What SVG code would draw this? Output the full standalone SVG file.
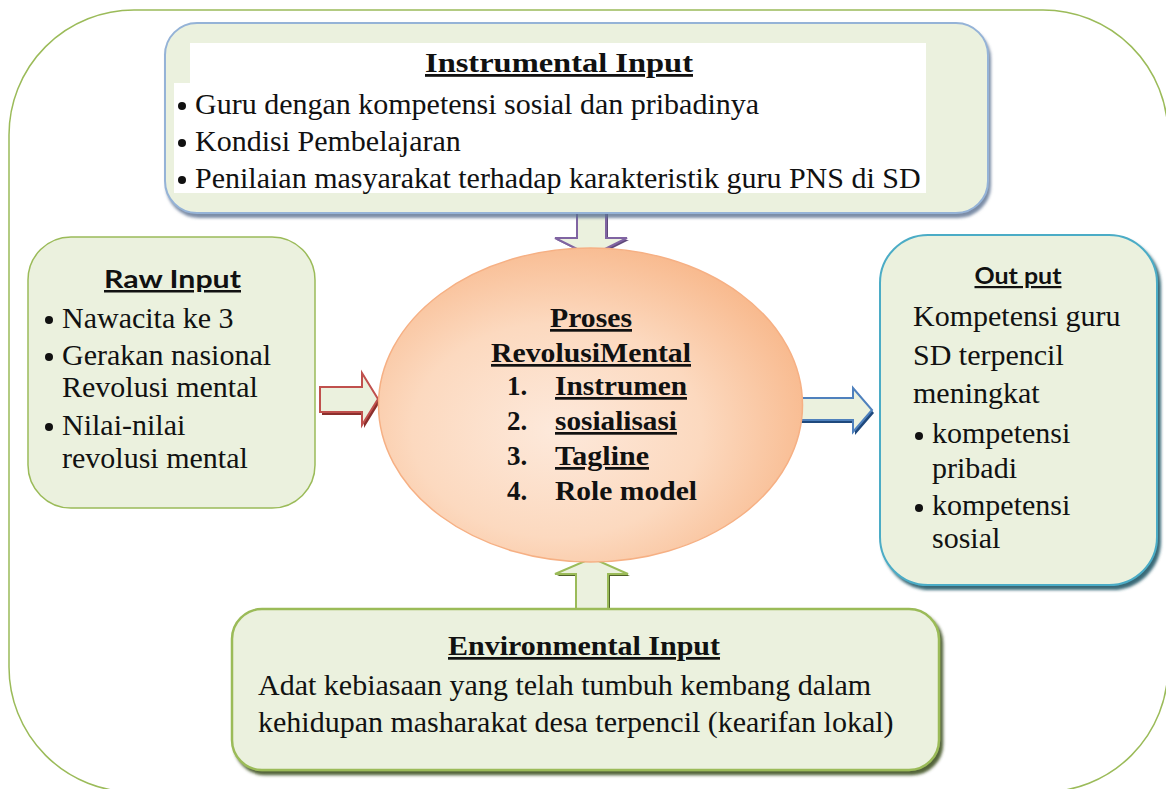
<svg xmlns="http://www.w3.org/2000/svg" width="1166" height="789" viewBox="0 0 1166 789">
<style>
.box{fill:#EBF1DE}
.t{font-family:"Liberation Serif","Times New Roman",serif;font-size:30px;fill:#111}
.tb{font-family:"Liberation Serif","Times New Roman",serif;font-weight:bold;fill:#111}
.sb{font-family:Lato,"Liberation Sans",sans-serif;font-weight:bold;fill:#111}
.u{text-decoration:underline}
.bul{fill:#111}
.arr{fill:#EBF1DE;stroke-width:2;stroke-linejoin:miter}
</style>
<defs>
<radialGradient id="eg" cx="0.42" cy="0.58" r="0.62">
<stop offset="0" stop-color="#FDE9DB"/>
<stop offset="0.55" stop-color="#FCD9BF"/>
<stop offset="1" stop-color="#F8B98D"/>
</radialGradient>
<filter id="shB" x="-5%" y="-5%" width="112%" height="115%"><feDropShadow dx="2" dy="4" stdDeviation="1.5" flood-color="#5A7090" flood-opacity="0.8"/></filter>
<filter id="shT" x="-5%" y="-5%" width="112%" height="115%"><feDropShadow dx="3" dy="4" stdDeviation="1.5" flood-color="#205868" flood-opacity="0.9"/></filter>
<filter id="shG" x="-5%" y="-5%" width="112%" height="115%"><feDropShadow dx="3" dy="4" stdDeviation="1.5" flood-color="#3F5220" flood-opacity="0.9"/></filter>
</defs>
<rect width="1166" height="789" fill="#FFFFFF"/>
<g id="frame">
<rect x="9" y="10" width="1159" height="782" rx="125" ry="125" fill="none" stroke="#9BBB59" stroke-width="1.5"/>
</g>
<g id="connectors">
<polygon points="578,211 608,211 608,240 629,240 593,258 557,240 578,240" fill="#5F497A"/>
<polygon class="arr" stroke="#8064A2" points="577,210 606,210 606,238 627,238 591,256 555,238 577,238"/>
<polygon points="322,390 364,390 364,376 380,402 364,428 364,415 322,415" fill="#8B2F2C"/>
<polygon class="arr" stroke="#C0504D" points="320,387 362,387 362,373 378,399 362,425 362,412 320,412"/>
<polygon points="800,401 855,401 855,391 874,413 855,435 855,423 800,423" fill="#1F497D"/>
<polygon class="arr" stroke="#4F81BD" points="798,398 853,398 853,388 872,410 853,432 853,420 798,420"/>
<polygon points="578,614 578,576 557,576 593,560 630,576 610,576 610,614" fill="#4F6228"/>
<polygon class="arr" stroke="#9BBB59" points="576,612 576,574 555,574 592,558 628,574 608,574 608,612"/>
</g>
<g id="instrumental-input">
<rect class="box" x="165" y="23" width="823" height="190" rx="32" ry="32" stroke="#95B3D7" stroke-width="2" filter="url(#shB)"/>
<path d="M190,43 H926 V193 H174 V83 H190 Z" fill="#FFFFFF"/>
<text class="tb u" x="559" y="72" font-size="28" text-anchor="middle" textLength="268" lengthAdjust="spacingAndGlyphs">Instrumental Input</text>
<circle class="bul" cx="182" cy="106" r="4"/>
<text class="t" x="195" y="114">Guru dengan kompetensi sosial dan pribadinya</text>
<circle class="bul" cx="182" cy="143" r="4"/>
<text class="t" x="195" y="151">Kondisi Pembelajaran</text>
<circle class="bul" cx="182" cy="180" r="4"/>
<text class="t" x="195" y="188">Penilaian masyarakat terhadap karakteristik guru PNS di SD</text>
</g>
<g id="raw-input">
<rect class="box" x="28" y="237" width="287" height="271" rx="43" ry="43" stroke="#9BBB59" stroke-width="1.5"/>
<text class="sb u" x="172.5" y="288" font-size="25" text-anchor="middle" textLength="137" lengthAdjust="spacingAndGlyphs">Raw Input</text>
<circle class="bul" cx="49" cy="320" r="4"/>
<text class="t" x="62" y="328">Nawacita ke 3</text>
<circle class="bul" cx="49" cy="357" r="4"/>
<text class="t" x="62" y="365">Gerakan nasional</text>
<text class="t" x="62" y="397">Revolusi mental</text>
<circle class="bul" cx="49" cy="427" r="4"/>
<text class="t" x="62" y="435">Nilai-nilai</text>
<text class="t" x="62" y="468">revolusi mental</text>
</g>
<g id="proses-revolusi-mental">
<ellipse cx="590.5" cy="405" rx="212" ry="157" fill="url(#eg)" stroke="#F6B084" stroke-width="1.5"/>
<text class="tb u" x="591" y="327" font-size="27" text-anchor="middle" textLength="82" lengthAdjust="spacingAndGlyphs">Proses</text>
<text class="tb u" x="591" y="362" font-size="27" text-anchor="middle" textLength="200" lengthAdjust="spacingAndGlyphs">RevolusiMental</text>
<text class="tb" x="507" y="395" font-size="27">1.</text>
<text class="tb u" x="555" y="395" font-size="27" textLength="132" lengthAdjust="spacingAndGlyphs">Instrumen</text>
<text class="tb" x="507" y="430" font-size="27">2.</text>
<text class="tb u" x="555" y="430" font-size="27" textLength="122" lengthAdjust="spacingAndGlyphs">sosialisasi</text>
<text class="tb" x="507" y="465" font-size="27">3.</text>
<text class="tb u" x="555" y="465" font-size="27" textLength="94" lengthAdjust="spacingAndGlyphs">Tagline</text>
<text class="tb" x="507" y="500" font-size="27">4.</text>
<text class="tb" x="555" y="500" font-size="27" textLength="142" lengthAdjust="spacingAndGlyphs">Role model</text>
</g>
<g id="output">
<rect class="box" x="880" y="235" width="277" height="350" rx="48" ry="48" stroke="#4BACC6" stroke-width="2" filter="url(#shT)"/>
<text class="sb u" x="1018" y="284" font-size="22" text-anchor="middle" textLength="87" lengthAdjust="spacingAndGlyphs">Out put</text>
<text class="t" x="913" y="326">Kompetensi guru</text>
<text class="t" x="913" y="365">SD terpencil</text>
<text class="t" x="913" y="403">meningkat</text>
<circle class="bul" cx="919" cy="436" r="4"/>
<text class="t" x="932" y="443">kompetensi</text>
<text class="t" x="932" y="478">pribadi</text>
<circle class="bul" cx="919" cy="508" r="4"/>
<text class="t" x="932" y="515">kompetensi</text>
<text class="t" x="932" y="548">sosial</text>
</g>
<g id="environmental-input">
<rect class="box" x="232" y="609" width="707" height="161" rx="30" ry="30" stroke="#9BBB59" stroke-width="2.5" filter="url(#shG)"/>
<text class="tb u" x="584" y="655" font-size="27" text-anchor="middle" textLength="272" lengthAdjust="spacingAndGlyphs">Environmental Input</text>
<text class="t" x="258" y="695">Adat kebiasaan yang telah tumbuh kembang dalam</text>
<text class="t" x="258" y="732">kehidupan masharakat desa terpencil (kearifan lokal)</text>
</g>
</svg>
